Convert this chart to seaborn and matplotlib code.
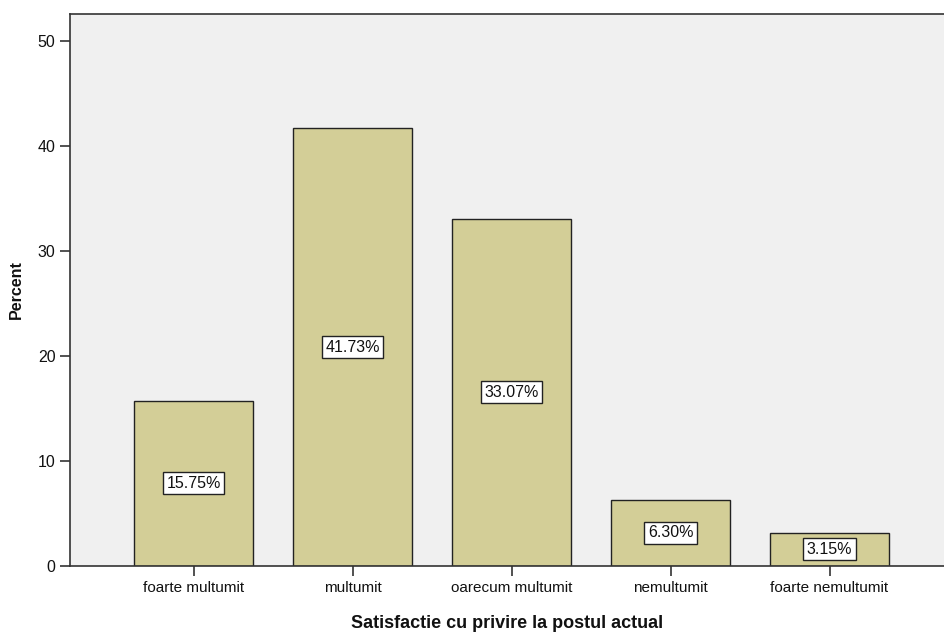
import numpy as np
import pandas as pd
import matplotlib
matplotlib.use('Agg')
from matplotlib import pyplot as plt
import seaborn as sns

# Dados do gráfico
categorias = ['foarte multumit', 'multumit', 'oarecum multumit', 'nemultumit', 'foarte nemultumit']
percentuais = [15.75, 41.73, 33.07, 6.30, 3.15]
rotulos = ['15.75%', '41.73%', '33.07%', '6.30%', '3.15%']

df = pd.DataFrame({'categoria': categorias, 'percent': percentuais})

# Tema
sns.set_theme(style='white', rc={'axes.facecolor': '#F0F0F0',
                                  'axes.edgecolor': '#333333',
                                  'axes.linewidth': 1.2,
                                  'text.color': '#111111',
                                  'axes.labelcolor': '#111111',
                                  'xtick.color': '#111111',
                                  'ytick.color': '#111111'})
plt.rcParams['font.family'] = ['Liberation Sans', 'DejaVu Sans']

fig = plt.figure(figsize=(9.44, 6.37), dpi=100)
ax = fig.add_axes([0.0742, 0.1115, 0.9258, 0.8665])

sns.barplot(data=df, x='categoria', y='percent', color='#D3CE97',
            saturation=1, width=0.75, edgecolor='#222222', linewidth=1.0, ax=ax)

# Rótulos com caixa branca no meio da barra
for i, (v, r) in enumerate(zip(percentuais, rotulos)):
    ax.text(i, v / 2, r, ha='center', va='center', fontsize=11.5,
            bbox=dict(boxstyle='square,pad=0.22', facecolor='white',
                      edgecolor='#222222', linewidth=1.0))

ax.set_xlim(-0.777, 4.72)
ax.set_ylim(0, 52.6)
ax.set_yticks([0, 10, 20, 30, 40, 50])
ax.spines['right'].set_visible(False)

ax.tick_params(axis='both', which='both', direction='out', length=7, width=1.2,
               color='#333333', labelsize=11, left=True, bottom=True)
ax.tick_params(axis='y', labelsize=11.5)
ax.set_xlabel('Satisfactie cu privire la postul actual', fontsize=13,
              fontweight='bold', labelpad=15)
ax.set_ylabel('Percent', fontsize=11.5, fontweight='bold', labelpad=10)

fig.savefig('out.png', dpi=100)
